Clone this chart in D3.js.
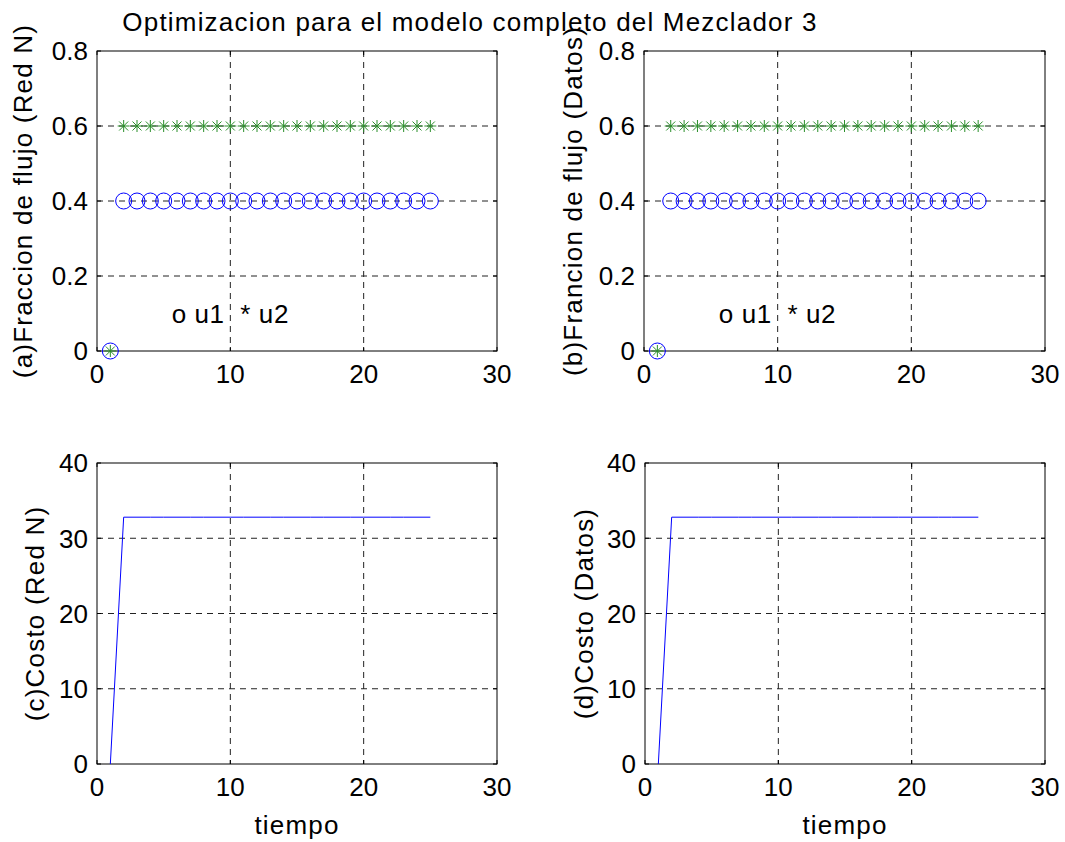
<!DOCTYPE html>
<html>
<head>
<meta charset="utf-8">
<script src="https://cdn.jsdelivr.net/npm/d3@7"></script>
<style>
  body { margin: 0; background: #fff; }
  svg { display: block; font-family: "Liberation Sans", Arial, Helvetica, sans-serif; }
</style>
</head>
<body>
<svg id="chart" width="1065" height="842"></svg>
<script>
// time steps
const tiempo = [1, 2, 3, 4, 5, 6, 7, 8, 9, 10, 11, 12, 13, 14, 15, 16, 17, 18, 19, 20, 21, 22, 23, 24, 25];
// flow fractions (same for red N and datos)
const u1 = [0, 0.4, 0.4, 0.4, 0.4, 0.4, 0.4, 0.4, 0.4, 0.4, 0.4, 0.4, 0.4, 0.4, 0.4, 0.4, 0.4, 0.4, 0.4, 0.4, 0.4, 0.4, 0.4, 0.4, 0.4];
const u2 = [0, 0.6, 0.6, 0.6, 0.6, 0.6, 0.6, 0.6, 0.6, 0.6, 0.6, 0.6, 0.6, 0.6, 0.6, 0.6, 0.6, 0.6, 0.6, 0.6, 0.6, 0.6, 0.6, 0.6, 0.6];
// cost
const costo = [0, 32.8, 32.8, 32.8, 32.8, 32.8, 32.8, 32.8, 32.8, 32.8, 32.8, 32.8, 32.8, 32.8, 32.8, 32.8, 32.8, 32.8, 32.8, 32.8, 32.8, 32.8, 32.8, 32.8, 32.8];

const xTicks = [0, 10, 20, 30];
const fracTicks = [0, 0.2, 0.4, 0.6, 0.8];
const costTicks = [0, 10, 20, 30, 40];

const svg = d3.select("#chart");
const FONT = 26;
const SPACING = "1.2px";

svg.append("text")
  .attr("x", 470).attr("y", 31)
  .attr("text-anchor", "middle")
  .style("font-size", FONT + "px")
  .style("letter-spacing", SPACING)
  .text("Optimizacion para el modelo completo del Mezclador 3");

// draws one MATLAB-like axes box, returns scales and group
function panel(box, yDomain, yTicks, yLabel, yLabelX, xLabel) {
  const x = d3.scaleLinear().domain([0, 30]).range([box.x0, box.x1]);
  const y = d3.scaleLinear().domain(yDomain).range([box.y1, box.y0]);
  const g = svg.append("g");

  // grid
  g.append("g").selectAll("line").data(xTicks.slice(1, -1)).join("line")
    .attr("x1", d => x(d)).attr("x2", d => x(d))
    .attr("y1", box.y0).attr("y2", box.y1)
    .attr("stroke", "#222").attr("stroke-dasharray", "6,5");
  g.append("g").selectAll("line").data(yTicks.slice(1, -1)).join("line")
    .attr("x1", box.x0).attr("x2", box.x1)
    .attr("y1", d => y(d)).attr("y2", d => y(d))
    .attr("stroke", "#222").attr("stroke-dasharray", "6,5");

  // inward ticks on all four sides
  const tl = 4;
  const tk = g.append("g").attr("stroke", "#000");
  xTicks.forEach(d => {
    tk.append("line").attr("x1", x(d)).attr("x2", x(d)).attr("y1", box.y1).attr("y2", box.y1 - tl);
    tk.append("line").attr("x1", x(d)).attr("x2", x(d)).attr("y1", box.y0).attr("y2", box.y0 + tl);
  });
  yTicks.forEach(d => {
    tk.append("line").attr("x1", box.x0).attr("x2", box.x0 + tl).attr("y1", y(d)).attr("y2", y(d));
    tk.append("line").attr("x1", box.x1).attr("x2", box.x1 - tl).attr("y1", y(d)).attr("y2", y(d));
  });

  // box
  g.append("rect")
    .attr("x", box.x0).attr("y", box.y0)
    .attr("width", box.x1 - box.x0).attr("height", box.y1 - box.y0)
    .attr("fill", "none").attr("stroke", "#000");

  // tick labels
  g.append("g").selectAll("text").data(xTicks).join("text")
    .attr("x", d => x(d)).attr("y", box.y1 + 32)
    .attr("text-anchor", "middle").style("font-size", FONT + "px")
    .text(d => d);
  g.append("g").selectAll("text").data(yTicks).join("text")
    .attr("x", box.x0 - 9).attr("y", d => y(d)).attr("dy", "0.36em")
    .attr("text-anchor", "end").style("font-size", FONT + "px")
    .text(d => d);

  g.append("text")
    .attr("transform", `translate(${yLabelX},${(box.y0 + box.y1) / 2}) rotate(-90)`)
    .attr("text-anchor", "middle").style("font-size", FONT + "px")
    .style("letter-spacing", SPACING)
    .text(yLabel);

  if (xLabel) {
    g.append("text")
      .attr("x", (box.x0 + box.x1) / 2).attr("y", box.y1 + 70)
      .attr("text-anchor", "middle").style("font-size", FONT + "px")
      .style("letter-spacing", SPACING)
      .text(xLabel);
  }
  return { x, y, g };
}

function fracPanel(box, label, labelX) {
  const { x, y, g } = panel(box, [0, 0.8], fracTicks, label, labelX, null);
  const pts = g.append("g");
  // u2 stars
  tiempo.forEach((t, i) => {
    const cx = x(t), cy = y(u2[i]), r = 6, rd = r * 0.75;
    const s = pts.append("g").attr("stroke", "#2a8f2a").attr("stroke-width", 1);
    s.append("line").attr("x1", cx - r).attr("x2", cx + r).attr("y1", cy).attr("y2", cy);
    s.append("line").attr("x1", cx).attr("x2", cx).attr("y1", cy - r).attr("y2", cy + r);
    s.append("line").attr("x1", cx - rd).attr("x2", cx + rd).attr("y1", cy - rd).attr("y2", cy + rd);
    s.append("line").attr("x1", cx - rd).attr("x2", cx + rd).attr("y1", cy + rd).attr("y2", cy - rd);
  });
  // u1 circles
  pts.selectAll("circle").data(tiempo).join("circle")
    .attr("cx", d => x(d)).attr("cy", (d, i) => y(u1[i])).attr("r", 8)
    .attr("fill", "none").attr("stroke", "#0000ff");
  g.append("text")
    .attr("x", x(5.6)).attr("y", y(0.1)).attr("dy", "0.36em")
    .style("font-size", FONT + "px")
    .style("letter-spacing", "0.6px")
    .attr("xml:space", "preserve")
    .text("o u1  * u2");
}

function costPanel(box, label, labelX) {
  const { x, y, g } = panel(box, [0, 40], costTicks, label, labelX, "tiempo");
  const line = d3.line().x(d => x(d)).y((d, i) => y(costo[i]));
  g.append("path").datum(tiempo)
    .attr("d", line).attr("fill", "none").attr("stroke", "#0000ff").attr("stroke-width", 1);
}

fracPanel({ x0: 97, x1: 497, y0: 51, y1: 351 }, "(a)Fraccion de flujo (Red N)", 32);
fracPanel({ x0: 644, x1: 1045, y0: 51, y1: 351 }, "(b)Francion de flujo (Datos)", 582);
costPanel({ x0: 97, x1: 497, y0: 463, y1: 764 }, "(c)Costo (Red N)", 44);
costPanel({ x0: 645, x1: 1045, y0: 463, y1: 764 }, "(d)Costo (Datos)", 593);
</script>
</body>
</html>
